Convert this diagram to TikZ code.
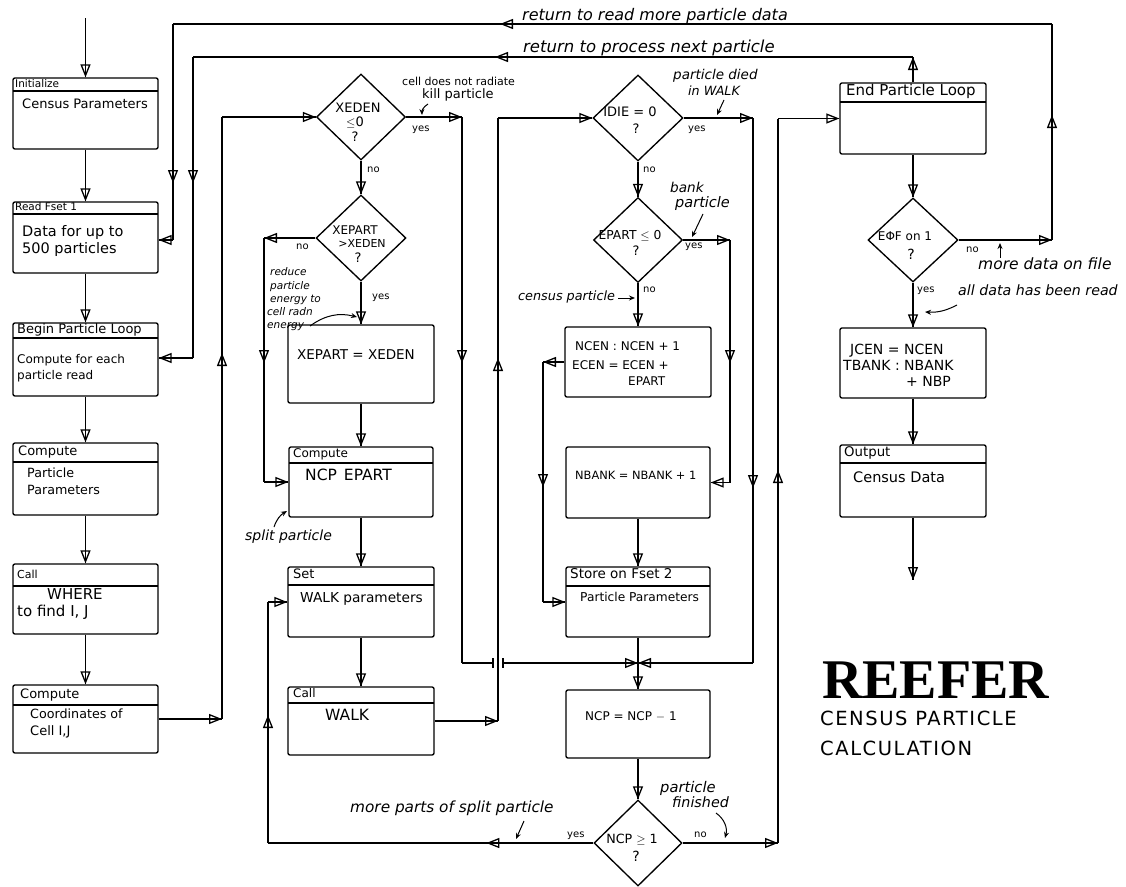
\documentclass[tikz,border=0pt]{standalone}
\usepackage{fontspec}
\setmainfont{DejaVu Sans}
\newfontfamily\titlefont{Liberation Serif}
\newfontfamily\capsfont[LetterSpace=8]{DejaVu Sans}
\usetikzlibrary{arrows.meta,shapes.geometric,decorations.markings,fit}
\newcommand\fsz[1]{\fontsize{#1}{#1}\selectfont}
\tikzset{
 fl/.style={line width=1.35pt},
 pbox/.style={draw, line width=1.35pt, rounded corners=2pt, inner sep=0pt},
 dia/.style={draw, diamond, line width=1.35pt, inner sep=0pt},
 hl/.style={line width=1.35pt},
 tx/.style={inner sep=0pt, anchor=west, text height=0.72em, text depth=0.18em},
 ht/.style={tx, font=\fsz{10.5}},
 bt/.style={tx, font=\fsz{12}},
 ct/.style={inner sep=0pt, text height=0.72em, text depth=0.18em},
 yn/.style={tx, font=\fsz{10}},
 an/.style={tx, font=\itshape\fsz{12}},
 ma/.style={postaction={decorate}, decoration={markings, mark=at position #1 with {\arrow{Triangle[open,length=13pt,width=10pt,line width=1.3pt]}}}},
 ea/.style={fl, ma=1},
 ann/.style={line width=1pt, -{Stealth[length=6pt,width=5pt]}},
}
\begin{document}
\begin{tikzpicture}[x=1pt,y=-1pt]
\useasboundingbox (0,0) rectangle (1126,886);
% ---------- boxes ----------
\node[pbox, fit={(13,78) (158,149)}] (ini) {};
\draw[hl] (13,91) -- (158,91);
\node[pbox, fit={(13,202) (158,273)}] (rf) {};
\draw[hl] (13,214) -- (158,214);
\node[pbox, fit={(13,323) (158,396)}] (bpl) {};
\draw[hl] (13,338) -- (158,338);
\node[pbox, fit={(13,443) (158,515)}] (cpp) {};
\draw[hl] (13,462) -- (158,462);
\node[pbox, fit={(13,564) (158,634)}] (cw) {};
\draw[hl] (13,586) -- (158,586);
\node[pbox, fit={(13,685) (158,753)}] (cc) {};
\draw[hl] (13,705) -- (158,705);
\node[pbox, fit={(288,325) (434,403)}] (xe) {};
\node[pbox, fit={(289,447) (433,517)}] (cnc) {};
\draw[hl] (289,463) -- (433,463);
\node[pbox, fit={(288,567) (434,637)}] (set) {};
\draw[hl] (288,585) -- (434,585);
\node[pbox, fit={(288,687) (434,755)}] (cw2) {};
\draw[hl] (288,703) -- (434,703);
\node[pbox, fit={(565,327) (711,397)}] (nc) {};
\node[pbox, fit={(566,447) (710,518)}] (nb) {};
\node[pbox, fit={(566,567) (710,637)}] (st) {};
\draw[hl] (566,586) -- (710,586);
\node[pbox, fit={(566,690) (710,758)}] (ncp) {};
\node[pbox, fit={(840,83) (986,154)}] (epl) {};
\draw[hl] (840,102) -- (986,102);
\node[pbox, fit={(840,328) (986,398)}] (jc) {};
\node[pbox, fit={(840,445) (986,517)}] (out) {};
\draw[hl] (840,463) -- (986,463);
% ---------- diamonds ----------
\node[dia, minimum width=89pt, minimum height=86pt] (d1) at (361,117) {};
\node[dia, minimum width=90pt, minimum height=86pt] (d2) at (361,238) {};
\node[dia, minimum width=90pt, minimum height=86pt] (d3) at (638,118) {};
\node[dia, minimum width=89pt, minimum height=85pt] (d4) at (638,240) {};
\node[dia, minimum width=90pt, minimum height=84pt] (d5) at (913,240) {};
\node[dia, minimum width=88pt, minimum height=86pt] (d6) at (638,843) {};
% ---------- coordinates ----------
\coordinate (start) at (85.5,18);
\coordinate (l1a) at (173,24);
\coordinate (l1b) at (1052,24);
\coordinate (l1c) at (1052,240);
\coordinate (l1d) at (173,240);
\coordinate (l2a) at (193,57);
\coordinate (l2b) at (913,57);
\coordinate (l2d) at (193,358);
\coordinate (l3a) at (222,719);
\coordinate (l3b) at (222,117);
\coordinate (y1a) at (462,117);
\coordinate (y1b) at (462,663);
\coordinate (gap1) at (493,663);
\coordinate (gap2) at (503,663);
\coordinate (merge) at (638,663);
\coordinate (n2a) at (264,238);
\coordinate (n2b) at (264,482);
\coordinate (w1) at (498,721);
\coordinate (w2) at (498,118);
\coordinate (y3a) at (753,118);
\coordinate (y3b) at (753,663);
\coordinate (y4a) at (730,240);
\coordinate (y4b) at (730,482.5);
\coordinate (n4a) at (543,362);
\coordinate (n4b) at (543,602);
\coordinate (y6a) at (268,843);
\coordinate (y6b) at (268,602);
\coordinate (n6a) at (778,843);
\coordinate (n6b) at (778,118.5);
\coordinate (fin) at (913,580);
% ---------- connectors ----------
\draw[ea] (start) -- (ini.north);
\draw[ea] (ini.south) -- (rf.north);
\draw[ea] (rf.south) -- (bpl.north);
\draw[ea] (bpl.south) -- (cpp.north);
\draw[ea] (cpp.south) -- (cw.north);
\draw[ea] (cw.south) -- (cc.north);
% loop 1: read more data
\draw[ea] (d5.east) -- (l1c);
\draw[fl, ma=125pt] (l1c) -- (l1b);
\draw[fl, ma=552pt] (l1b) -- (l1a);
\draw[fl, ma=159pt] (l1a) -- (l1d);
\draw[ea] (l1d) -- (l1d -| rf.east);
% loop 2: next particle
\draw[ea] (epl.north) -- (l2b);
\draw[fl, ma=418pt] (l2b) -- (l2a);
\draw[fl, ma=126pt] (l2a) -- (l2d);
\draw[ea] (l2d) -- (l2d -| bpl.east);
% loop 3
\draw[ea] (cc.east) -- (l3a);
\draw[fl, ma=366pt] (l3a) -- (l3b);
\draw[ea] (l3b) -- (d1.west);
% XEDEN
\draw[ea] (d1.east) -- (y1a);
\draw[fl, ma=246pt] (y1a) -- (y1b);
\draw[fl] (y1b) -- (gap1);
\draw[fl] (493,658) -- (493,668);
\draw[fl] (503,658) -- (503,668);
\draw[ea] (gap2) -- (merge);
\draw[ea] (d1.south) -- (d2.north);
% XEPART
\draw[ea] (d2.west) -- (n2a);
\draw[fl, ma=125pt] (n2a) -- (n2b);
\draw[ea] (n2b) -- (cnc.west);
\draw[ea] (d2.south) -- (xe.north);
\draw[ea] (xe.south) -- (cnc.north);
\draw[ea] (cnc.south) -- (set.north);
\draw[ea] (set.south) -- (cw2.north);
% WALK
\draw[ea] (cw2.east) -- (w1);
\draw[fl, ma=363pt] (w1) -- (w2);
\draw[ea] (w2) -- (d3.west);
% IDIE
\draw[ea] (d3.east) -- (y3a);
\draw[fl, ma=370pt] (y3a) -- (y3b);
\draw[ea] (y3b) -- (merge);
\draw[ea] (d3.south) -- (d4.north);
% EPART
\draw[ea] (d4.east) -- (y4a);
\draw[fl, ma=123pt] (y4a) -- (y4b);
\draw[ea] (y4b) -- (nb.east);
\draw[ea] (d4.south) -- (nc.north);
\draw[ea] (nc.west) -- (n4a);
\draw[fl, ma=125pt] (n4a) -- (n4b);
\draw[ea] (n4b) -- (st.west);
\draw[ea] (nb.south) -- (st.north);
\draw[fl] (st.south) -- (merge);
\draw[ea] (merge) -- (ncp.north);
\draw[ea] (ncp.south) -- (d6.north);
% NCP >= 1
\draw[fl, ma=107pt] (d6.west) -- (y6a);
\draw[fl, ma=128pt] (y6a) -- (y6b);
\draw[ea] (y6b) -- (set.west);
\draw[ea] (d6.east) -- (n6a);
\draw[fl, ma=373pt] (n6a) -- (n6b);
\draw[ea] (n6b) -- (epl.west);
% right column
\draw[ea] (epl.south) -- (d5.north);
\draw[ea] (d5.south) -- (jc.north);
\draw[ea] (jc.south) -- (out.north);
\draw[ea] (out.south) -- (fin);
% ---------- box texts ----------
\node[ht, font=\fsz{10.5}] (h1) at (15,85) {Initialize};
\node[bt, font=\fsz{13}] (b1) at (22,106) {Census Parameters};
\node[ht, font=\fsz{10.5}] (h2) at (15,208) {Read Fset 1};
\node[bt, font=\fsz{14.5}] (b2a) at (22,234) {Data for up to};
\node[bt, font=\fsz{14.5}] (b2b) at (22,251) {500 particles};
\node[ht, font=\fsz{13}] (h3) at (17,331) {Begin Particle Loop};
\node[bt, font=\fsz{12}] (b3a) at (17,361) {Compute for each};
\node[bt, font=\fsz{12}] (b3b) at (17,377) {particle read};
\node[ht, font=\fsz{13}] (h4) at (18,453) {Compute};
\node[bt, font=\fsz{12.7}] (b4a) at (27,475) {Particle};
\node[bt, font=\fsz{12.7}] (b4b) at (27,492) {Parameters};
\node[ht, font=\fsz{11}] (h5) at (17,576) {Call};
\node[bt, font=\fsz{15}] (b5a) at (47,597) {WHERE};
\node[bt, font=\fsz{15}] (b5b) at (17,614) {to find I, J};
\node[ht, font=\fsz{13}] (h6) at (20,696) {Compute};
\node[bt, font=\fsz{12.7}] (b6a) at (30,716) {Coordinates of};
\node[bt, font=\fsz{13}] (b6b) at (30,733) {Cell I,J};
\node[bt, font=\fsz{13.5}] (b7) at (297,357) {XEPART = XEDEN};
\node[ht, font=\fsz{12}] (h8) at (293,455) {Compute};
\node[bt, font=\fsz{15.5}] (b8) at (305,478) {NCP\hspace{7pt}EPART};
\node[ht, font=\fsz{13}] (h9) at (293,576) {Set};
\node[bt, font=\fsz{13.7}] (b9) at (300,600) {WALK parameters};
\node[ht, font=\fsz{12}] (h10) at (293,695) {Call};
\node[bt, font=\fsz{15.5}] (b10) at (325,718) {WALK};
\node[bt, font=\fsz{12}] (b11a) at (575,348) {NCEN : NCEN + 1};
\node[bt, font=\fsz{12}] (b11b) at (572,367) {ECEN = ECEN +};
\node[bt, font=\fsz{12}] (b11c) at (628,383) {EPART};
\node[bt, font=\fsz{11.4}] (b12) at (575,477) {NBANK = NBANK + 1};
\node[ht, font=\fsz{13.5}] (h13) at (570,576) {Store on Fset 2};
\node[bt, font=\fsz{12.2}] (b13) at (580,599) {Particle Parameters};
\node[bt, font=\fsz{12}] (b14) at (585,718) {NCP = NCP $-$ 1};
\node[ht, font=\fsz{15}] (h15) at (846,93) {End Particle Loop};
\node[bt, font=\fsz{14}] (b16a) at (850,352) {JCEN = NCEN};
\node[bt, font=\fsz{14}] (b16b) at (843,368) {TBANK : NBANK};
\node[bt, font=\fsz{14}] (b16c) at (906,384) {+ NBP};
\node[ht, font=\fsz{13.3}] (h17) at (844,454) {Output};
\node[bt, font=\fsz{14.5}] (b17) at (853,480) {Census Data};
% ---------- diamond texts ----------
\node[ct, font=\fsz{13}] (q1a) at (358,110) {XEDEN};
\node[ct, font=\fsz{13}] (q1b) at (355,124) {$\leq$0};
\node[ct, font=\fsz{13}] (q1c) at (355,139) {?};
\node[ct, font=\fsz{12}] (q2a) at (355,232) {XEPART};
\node[ct, font=\fsz{11}] (q2b) at (362,245) {>XEDEN};
\node[ct, font=\fsz{13}] (q2c) at (358,260) {?};
\node[ct, font=\fsz{13}] (q3a) at (630,114) {IDIE = 0};
\node[ct, font=\fsz{13}] (q3b) at (636,131) {?};
\node[ct, font=\fsz{12.3}] (q4a) at (630,237) {EPART $\leq$ 0};
\node[ct, font=\fsz{13}] (q4b) at (636,253) {?};
\node[ct, font=\fsz{12}] (q5a) at (905,238) {EΦF on 1};
\node[ct, font=\fsz{14}] (q5b) at (911,257) {?};
\node[ct, font=\fsz{12.7}] (q6a) at (632,841) {NCP $\geq$ 1};
\node[ct, font=\fsz{14}] (q6b) at (636,859) {?};
% ---------- yes / no ----------
\node[yn] (y1) at (412,129) {yes};
\node[yn] (n1) at (367,170) {no};
\node[yn] (n2) at (296,247) {no};
\node[yn] (y2) at (372,297) {yes};
\node[yn] (n3) at (643,170) {no};
\node[yn] (y3) at (688,129) {yes};
\node[yn] (y4) at (685,246) {yes};
\node[yn] (n4) at (643,290) {no};
\node[yn] (y6) at (567,835) {yes};
\node[yn] (n6) at (694,835) {no};
\node[yn] (n5) at (966,250) {no};
\node[yn] (y5) at (917,290) {yes};
% ---------- annotations ----------
\node[an, font=\itshape\fsz{16}] (a1) at (522,18) {return to read more particle data};
\node[an, font=\itshape\fsz{16.5}] (a2) at (523,50) {return to process next particle};
\node[tx, font=\fsz{11}] (a3) at (402,83) {cell does not radiate};
\node[tx, font=\fsz{13}] (a4) at (422,96) {kill particle};
\node[an, font=\itshape\fsz{13.5}] (a5) at (673,77) {particle died};
\node[an, font=\itshape\fsz{12.7}] (a6) at (688,93) {in WALK};
\node[an, font=\itshape\fsz{13.6}] (a7) at (670,190) {bank};
\node[an, font=\itshape\fsz{14.5}] (a8) at (675,205) {particle};
\node[an, font=\itshape\fsz{12.8}] (a9) at (518,298) {census particle};
\node[an, font=\itshape\fsz{10.5}] (a10) at (270,273) {reduce};
\node[an, font=\itshape\fsz{10.5}] (a11) at (270,287) {particle};
\node[an, font=\itshape\fsz{10.5}] (a12) at (270,300) {energy to};
\node[an, font=\itshape\fsz{10.5}] (a13) at (267,313) {cell radn};
\node[an, font=\itshape\fsz{10.5}] (a14) at (267,326) {energy};
\node[an, font=\itshape\fsz{14}] (a15) at (245,538) {split particle};
\node[an, font=\itshape\fsz{15.3}] (a16) at (350,810) {more parts of split particle};
\node[an, font=\itshape\fsz{14.7}] (a17) at (660,790) {particle};
\node[an, font=\itshape\fsz{14.3}] (a18) at (672,805) {finished};
\node[an, font=\itshape\fsz{15.5}] (a19) at (978,267) {more data on file};
\node[an, font=\itshape\fsz{14.2}] (a20) at (958,293) {all data has been read};
% annotation arrows
\coordinate (k1) at (428,104); \coordinate (k2) at (422,115);
\draw[ann] (k1) to[bend right=30] (k2);
\coordinate (pd1) at (724,100); \coordinate (pd2) at (717,115);
\draw[ann] (pd1) -- (pd2);
\coordinate (bk1) at (703,214); \coordinate (bk2) at (692,237);
\draw[ann] (bk1) -- (bk2);
\coordinate (cp1) at (618,298); \coordinate (cp2) at (635,298);
\draw[ann] (cp1) -- (cp2);
\coordinate (re1) at (310,326); \coordinate (re2) at (357,317);
\draw[ann] (re1) to[bend left=25] (re2);
\coordinate (sp1) at (274,527); \coordinate (sp2) at (287,511);
\draw[ann] (sp1) to[bend left=20] (sp2);
\coordinate (mp1) at (524,821); \coordinate (mp2) at (516,839);
\draw[ann] (mp1) -- (mp2);
\coordinate (pf1) at (716,813); \coordinate (pf2) at (725,838);
\draw[ann] (pf1) to[bend left=35] (pf2);
\coordinate (md1) at (1000,258); \coordinate (md2) at (1000,243);
\draw[ann] (md1) -- (md2);
\coordinate (ad1) at (957,305); \coordinate (ad2) at (925,312);
\draw[ann] (ad1) to[bend left=15] (ad2);
% ---------- title ----------
\node[inner sep=0pt, anchor=west, font=\titlefont\bfseries\fsz{56}] (title) at (822,680) {REEFER};
\node[tx, font=\capsfont\fsz{19.5}] (sub1) at (820,723) {CENSUS PARTICLE};
\node[tx, font=\capsfont\fsz{19.5}] (sub2) at (820,753) {CALCULATION};
\end{tikzpicture}
\end{document}
